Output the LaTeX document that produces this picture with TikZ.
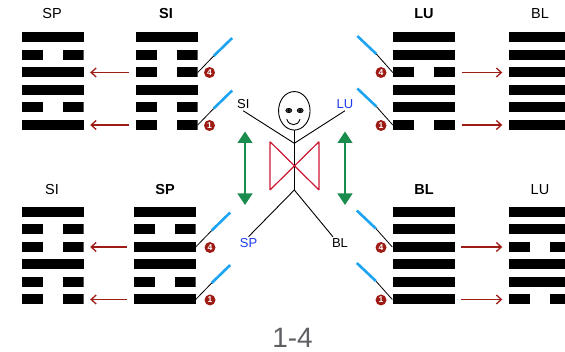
\documentclass[tikz,border=0pt]{standalone}
\usepackage{fontspec}
\setmainfont{Liberation Sans}
\usetikzlibrary{arrows.meta,calc,shapes.geometric}

\definecolor{darkred}{RGB}{158,28,22}
\definecolor{needleblue}{RGB}{28,164,242}
\definecolor{meridian}{RGB}{30,60,240}
\definecolor{bowred}{RGB}{204,22,50}
\definecolor{flowgreen}{RGB}{26,140,78}
\definecolor{caption}{RGB}{95,95,100}

\tikzset{
  line1/.style={rectangle, fill=black, minimum width=62pt, minimum height=10pt, inner sep=0pt},
  line0/.style={rectangle, minimum width=62pt, minimum height=10pt, inner sep=0pt,
    path picture={
      \fill[black] (path picture bounding box.south west) rectangle ++(21pt,10pt);
      \fill[black] (path picture bounding box.south east) rectangle ++(-21pt,10pt);}},
  hdr/.style={inner sep=1pt, font=\fontsize{14.5}{16}\selectfont},
  hdrb/.style={hdr, font=\fontsize{14.5}{16}\selectfont\bfseries},
  mlabel/.style={inner sep=1.5pt, font=\fontsize{13}{15}\selectfont},
  badge/.style={circle, fill=darkred, inner sep=0pt, minimum size=11pt, text=white,
    font=\fontsize{8.5}{9}\selectfont\bfseries},
  change/.style={draw=darkred, line width=1.3pt, -{Straight Barb[length=5pt,width=9pt]},
    shorten <=6.5pt, shorten >=6.5pt},
  shaft/.style={draw=black, line width=0.8pt},
  needle/.style={draw=needleblue, line width=2.6pt},
  limb/.style={draw=black, line width=0.9pt},
  bow/.style={draw=bowred, line width=1.2pt},
  flow/.style={draw=flowgreen, line width=2.8pt,
    {Triangle[width=14.5pt,length=11.5pt]}-{Triangle[width=14.5pt,length=11.5pt]}}
}

% one hexagram: name, x centre, y of top line, pattern from top to bottom
\newcommand\hexgram[4]{%
  \foreach \b [count=\i] in {#4}{
    \node[line\b] (#1-\i) at (#2,{#3+17.5*(\i-1)}) {};
  }%
}

\begin{document}
\begin{tikzpicture}[x=1pt,y=-1pt]
\useasboundingbox (0,0) rectangle (565,352);

% ---------- headings ----------
\node[hdr]  (tSPa) at (52,14)  {SP};
\node[hdrb] (tSIa) at (166,14) {SI};
\node[hdrb] (tLUa) at (424,14) {LU};
\node[hdr]  (tBLa) at (540,14) {BL};
\node[hdr]  (tSIb) at (52,190)  {SI};
\node[hdrb] (tSPb) at (165,190) {SP};
\node[hdrb] (tBLb) at (424,190) {BL};
\node[hdr]  (tLUb) at (540,190) {LU};

% ---------- hexagrams ----------
\hexgram{hSPa}{52.5}{37.5}{1,0,1,1,0,1}
\hexgram{hSIa}{166.5}{37.5}{1,0,0,1,0,0}
\hexgram{hLUa}{424}{37.5}{1,1,0,1,1,0}
\hexgram{hBLa}{540}{37.5}{1,1,1,1,1,1}
\hexgram{hSIb}{52.5}{212}{1,0,0,1,0,0}
\hexgram{hSPb}{164.5}{212}{1,0,1,1,0,1}
\hexgram{hBLb}{423.5}{212}{1,1,1,1,1,1}
\hexgram{hLUb}{540}{212}{1,1,0,1,1,0}

% ---------- changing lines ----------
\draw[change] (hSIa-3.west) -- (hSPa-3.east);
\draw[change] (hSIa-6.west) -- (hSPa-6.east);
\draw[change] (hLUa-3.east) -- (hBLa-3.west);
\draw[change] (hLUa-6.east) -- (hBLa-6.west);
\draw[change] (hSPb-3.west) -- (hSIb-3.east);
\draw[change] (hSPb-6.west) -- (hSIb-6.east);
\draw[change] (hBLb-3.east) -- (hLUb-3.west);
\draw[change] (hBLb-6.east) -- (hLUb-6.west);

% ---------- needles ----------
\foreach \h/\k in {hSIa/3, hSIa/6, hSPb/3, hSPb/6}{
  \coordinate (\h n\k m) at ($(\h-\k.east)+(16,-16.5)$);
  \coordinate (\h n\k e) at ($(\h n\k m)+(18.5,-18)$);
  \draw[shaft]  (\h-\k.east) -- (\h n\k m);
  \draw[needle] (\h n\k m) -- (\h n\k e);
}
\foreach \h/\k in {hLUa/3, hLUa/6, hBLb/3, hBLb/6}{
  \coordinate (\h n\k m) at ($(\h-\k.west)+(-16.5,-18.5)$);
  \coordinate (\h n\k e) at ($(\h n\k m)+(-19,-18)$);
  \draw[shaft]  (\h-\k.west) -- (\h n\k m);
  \draw[needle] (\h n\k m) -- (\h n\k e);
}

% ---------- point numbers ----------
\node[badge] (bSIa4) at (209.5,72.5)  {4};
\node[badge] (bSIa1) at (209.5,125.5) {1};
\node[badge] (bLUa4) at (381,72.5)  {4};
\node[badge] (bLUa1) at (381,125.5) {1};
\node[badge] (bSPb4) at (210,247.5) {4};
\node[badge] (bSPb1) at (210,300)   {1};
\node[badge] (bBLb4) at (381,247.5) {4};
\node[badge] (bBLb1) at (381,300)   {1};

% ---------- figure ----------
\node[ellipse, draw, line width=0.9pt, minimum width=31.5pt, minimum height=38.5pt, inner sep=0pt]
  (head) at (294.3,110.8) {};
\foreach \ex in {288.8,300.2}{
  \fill[gray!55!black, draw=black, line width=0.7pt] (\ex,110.5) ellipse (3pt and 2.2pt);
  \fill[black] (\ex,110.5) circle (1.4pt);
}
\draw[line width=0.9pt] (286.8,119.2) .. controls (289,126.5) and (298,126.5) .. (300,119.2);

\coordinate (shoulder) at (294.3,143.3);
\coordinate (hip) at (294.3,190);

\node[mlabel] (lSI) at (243.3,104.5) {SI};
\node[mlabel, text=meridian] (lLU) at (345,104.5) {LU};
\node[mlabel, text=meridian] (lSP) at (248.5,243) {SP};
\node[mlabel] (lBL) at (340,243) {BL};

\draw[limb] (head.south) -- (hip);
\draw[limb] (lSI.south) -- (shoulder);
\draw[limb] (lLU.south) -- (shoulder);
\draw[limb] (hip) -- (lSP.north);
\draw[limb] (hip) -- ($(lBL.north)+(-7,0)$);

% bow tie
\coordinate (bw1) at (270,141.7);
\coordinate (bw2) at (319,190);
\coordinate (bw3) at (270,190);
\coordinate (bw4) at (319,141.7);
\draw[bow] (bw1) -- (bw2) (bw3) -- (bw4) (bw1) -- (bw3) (bw4) -- (bw2);

% flow arrows
\coordinate (gLt) at (245,131.5);
\coordinate (gLb) at (245,205);
\coordinate (gRt) at (345,131.5);
\coordinate (gRb) at (345,205);
\draw[flow] (gLt) -- (gLb);
\draw[flow] (gRt) -- (gRb);

% ---------- caption ----------
\node[inner sep=0pt, text=caption, font=\fontsize{28}{30}\selectfont] (cap) at (292.5,337.5) {1-4};
\end{tikzpicture}
\end{document}
